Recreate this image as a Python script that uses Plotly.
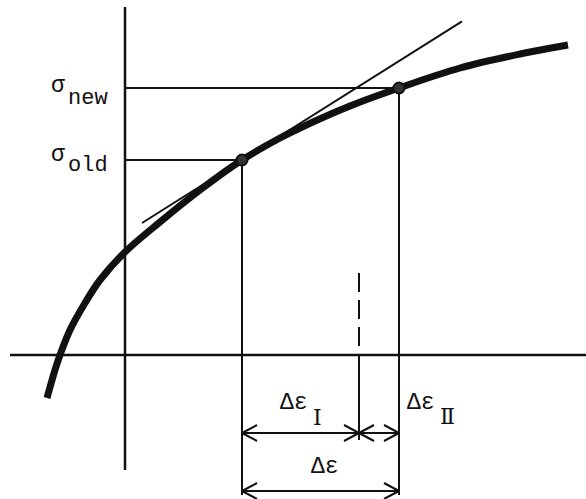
import plotly.graph_objects as go

# Stress-strain curve (arbitrary units): strain eps, stress sigma
eps_curve = [-0.78, -0.70, -0.65, -0.55, -0.40, -0.25, 0.00, 0.35, 0.75,
             1.17, 1.55, 1.75, 2.25, 2.74, 3.35, 3.95, 4.43]
sig_curve = [-0.43, -0.15, 0.00, 0.25, 0.52, 0.75, 1.03, 1.33, 1.65,
             1.95, 2.17, 2.27, 2.49, 2.67, 2.87, 3.01, 3.10]

# Old and new states on the curve
eps_old, sig_old = 1.17, 1.95
eps_new, sig_new = 2.74, 2.67
# Strain where the increment is split into parts I and II
eps_split = 2.34

# Tangent modulus at the old state and the strain span of the tangent line
tangent_slope = 0.63
tangent_eps = [0.17, 3.37]

# Extent of the coordinate axes
eps_axis = [-1.15, 4.61]
sig_axis = [-1.15, 3.48]

# Levels of the dimension arrows and the bottom of the extension lines
dim_level_1 = -0.78
dim_level_2 = -1.36
ext_bottom = -1.40
split_bottom = -0.85
split_top = 0.82

X_RANGE = [-1.25, 4.61]
Y_RANGE = [-1.44, 3.55]
W, H = 586, 499
px_x = (X_RANGE[1] - X_RANGE[0]) / W
px_y = (Y_RANGE[1] - Y_RANGE[0]) / H

INK = "#111111"
FONT = "Liberation Mono, Courier New, monospace"

fig = go.Figure()


def seg(x, y, width=2, dash="solid"):
    fig.add_trace(go.Scatter(x=x, y=y, mode="lines",
                             line=dict(color=INK, width=width, dash=dash),
                             hoverinfo="skip", showlegend=False))


def chevron(x0, y0, direction):
    # open arrowhead whose tip sits at (x0, y0); direction -1 = left, +1 = right
    L, Hh = 15 * px_x, 8 * px_y
    xb = x0 - direction * L
    return [xb, x0, xb, None], [y0 + Hh, y0, y0 - Hh, None]


# coordinate axes
seg(eps_axis, [0, 0], width=2.5)
seg([0, 0], sig_axis, width=2.5)

# tangent line at the old state
tan_sig = [sig_old + tangent_slope * (e - eps_old) for e in tangent_eps]
seg(tangent_eps, tan_sig, width=2)

# horizontal stress levels
seg([0, eps_old], [sig_old, sig_old], width=2)
seg([0, eps_new], [sig_new, sig_new], width=2)

# vertical extension lines
seg([eps_old, eps_old], [sig_old, ext_bottom], width=2)
seg([eps_new, eps_new], [sig_new, ext_bottom], width=2)
seg([eps_split, eps_split], [split_top, 0], width=2, dash="19px,8px")
seg([eps_split, eps_split], [0, split_bottom], width=2)

# dimension lines with open arrowheads
seg([eps_old, eps_new], [dim_level_1, dim_level_1], width=2)
seg([eps_old, eps_new], [dim_level_2, dim_level_2], width=2)
ax, ay = [], []
for x0, y0, d in [(eps_old, dim_level_1, -1), (eps_split, dim_level_1, 1),
                  (eps_split, dim_level_1, -1), (eps_new, dim_level_1, 1),
                  (eps_old, dim_level_2, -1), (eps_new, dim_level_2, 1)]:
    cx, cy = chevron(x0, y0, d)
    ax += cx
    ay += cy
seg(ax, ay, width=2)

# the stress-strain curve
fig.add_trace(go.Scatter(x=eps_curve, y=sig_curve, mode="lines",
                         line=dict(color=INK, width=7, shape="spline", smoothing=1.0),
                         hoverinfo="skip", showlegend=False))

# state points
fig.add_trace(go.Scatter(x=[eps_old, eps_new], y=[sig_old, sig_new], mode="markers",
                         marker=dict(size=11, color="#333333",
                                     line=dict(color=INK, width=2)),
                         hoverinfo="skip", showlegend=False))


def label(text, x, y, xshift, yshift, anchor="left", size=23, family=FONT):
    fig.add_annotation(x=x, y=y, text=text, showarrow=False,
                       xanchor=anchor, yanchor="middle",
                       xshift=xshift, yshift=yshift,
                       font=dict(family=family, size=size, color=INK))


# stress labels with full-size subscripts
label("σ", 0, sig_new, -58, 2, anchor="right")
label("new", 0, sig_new, -59, -10, anchor="left", size=22)
label("σ", 0, sig_old, -58, 5, anchor="right")
label("old", 0, sig_old, -59, -5, anchor="left", size=22)

# strain increment labels
label("Δε", eps_old, dim_level_1, 36, 30)
label("I", eps_old, dim_level_1, 69, 16, size=22, family="DejaVu Serif, serif")
label("Δε", eps_new, dim_level_1, 6, 30)
label("Ⅱ", eps_new, dim_level_1, 39, 17, size=22, family="DejaVu Serif, serif")
label("Δε", (eps_old + eps_new) / 2, dim_level_2, 4, 24, anchor="center")

fig.update_layout(
    width=W, height=H,
    margin=dict(l=0, r=0, t=0, b=0),
    paper_bgcolor="white", plot_bgcolor="white",
    xaxis=dict(range=X_RANGE, visible=False, fixedrange=True),
    yaxis=dict(range=Y_RANGE, visible=False, fixedrange=True),
    showlegend=False,
)

fig.write_html("out.html")
